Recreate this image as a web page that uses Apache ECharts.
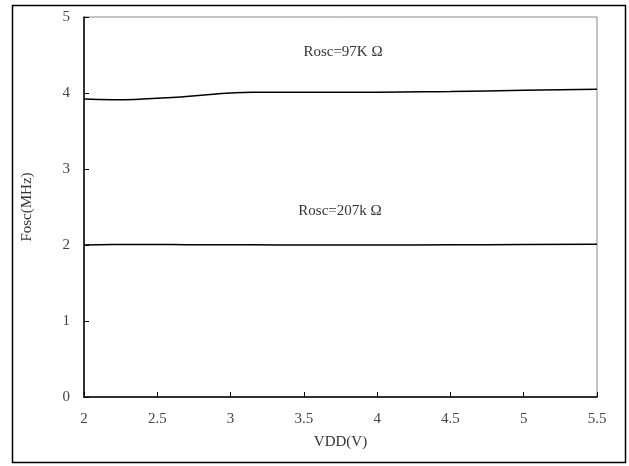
<!DOCTYPE html>
<html><head><meta charset="utf-8">
<script src="https://cdn.jsdelivr.net/npm/echarts@6/dist/echarts.min.js"></script>
<style>html,body{margin:0;padding:0;background:#fff}#c{width:629px;height:466px}</style>
</head><body><div id="c"></div>
<script>
const vdd = [2.0, 2.2, 2.4, 2.6, 2.8, 3.0, 3.15, 3.5, 4.0, 4.5, 5.0, 5.5];
const f97 = [3.92, 3.91, 3.92, 3.94, 3.97, 4.0, 4.01, 4.01, 4.01, 4.02, 4.035, 4.05];
const f207 = [2.0, 2.005, 2.008, 2.006, 2.004, 2.003, 2.002, 2.0, 2.0, 2.002, 2.005, 2.01];
const xTicks = [2, 2.5, 3, 3.5, 4, 4.5, 5, 5.5];
const yTicks = [0, 1, 2, 3, 4, 5];
const labels = ['Rosc=97K Ω', 'Rosc=207k Ω'];
const font = '"Liberation Serif", "Times New Roman", serif';

const chart = echarts.init(document.getElementById('c'), null, {renderer: 'canvas'});
chart.setOption({
  animation: false,
  backgroundColor: '#fff',
  grid: {left: 84, top: 17, right: 32, bottom: 69, show: true, borderColor: '#888', borderWidth: 1},
  xAxis: {
    type: 'value', min: 2, max: 5.5, interval: 0.5,
    name: 'VDD(V)', nameLocation: 'middle', nameGap: 38,
    nameTextStyle: {fontFamily: font, fontSize: 15, color: '#333'},
    axisLine: {lineStyle: {color: '#000', width: 1.5}},
    axisTick: {inside: true, length: 5, lineStyle: {color: '#000'}},
    axisLabel: {fontFamily: font, fontSize: 15, color: '#444', margin: 15,
      formatter: v => String(v)},
    splitLine: {show: false}
  },
  yAxis: {
    type: 'value', min: 0, max: 5, interval: 1,
    name: 'Fosc(MHz)', nameLocation: 'middle', nameGap: 49, nameRotate: 90,
    nameTextStyle: {fontFamily: font, fontSize: 15, color: '#333'},
    axisLine: {lineStyle: {color: '#000', width: 1.5}},
    axisTick: {inside: true, length: 5, lineStyle: {color: '#000'}},
    axisLabel: {fontFamily: font, fontSize: 15, color: '#444', margin: 14},
    splitLine: {show: false}
  },
  series: [
    {type: 'line', data: vdd.map((v, i) => [v, f97[i]]), smooth: true, showSymbol: false,
     lineStyle: {color: '#000', width: 1.5}},
    {type: 'line', data: vdd.map((v, i) => [v, f207[i]]), smooth: true, showSymbol: false,
     lineStyle: {color: '#000', width: 1.5}}
  ],
  graphic: [
    {type: 'rect', shape: {x: 12.5, y: 5.5, width: 613, height: 457},
     style: {fill: 'none', stroke: '#000', lineWidth: 1.5}, silent: true},
    {type: 'text', x: 343, y: 52, z: 10,
     style: {text: labels[0], font: '15px ' + font, fill: '#333', textAlign: 'center', textVerticalAlign: 'middle'}},
    {type: 'text', x: 340, y: 211, z: 10,
     style: {text: labels[1], font: '15px ' + font, fill: '#333', textAlign: 'center', textVerticalAlign: 'middle'}}
  ]
});
</script></body></html>
